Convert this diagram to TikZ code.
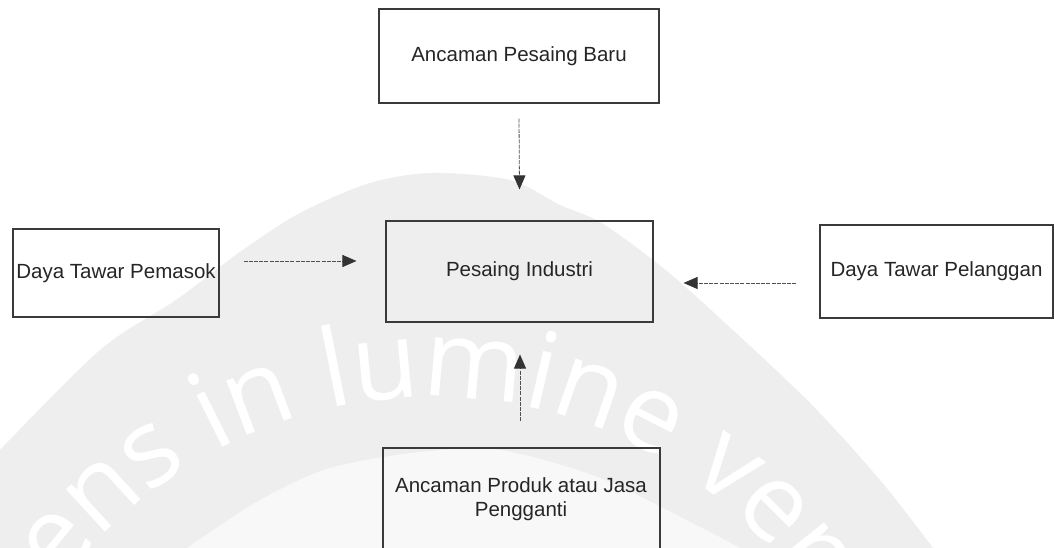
\documentclass[tikz,border=0pt]{standalone}
\usepackage{fontspec}
\setmainfont{Liberation Sans}
\newfontfamily\wmfont{Open Sans}
\usetikzlibrary{arrows.meta,calc,decorations.text}
\definecolor{boxline}{HTML}{3A3A3A}
\definecolor{txt}{HTML}{262626}
\definecolor{conn}{HTML}{505050}
\definecolor{tipcol}{HTML}{333333}
\definecolor{wmgray}{HTML}{EEEEEE}
\definecolor{wminner}{HTML}{F8F8F8}
\tikzset{
  box/.style={draw=boxline, line width=1.1pt, inner sep=0pt, text=txt,
    font=\fontsize{20.5}{24}\selectfont, align=center},
  lbl/.style={inner sep=0pt, text=txt, font=\fontsize{20.5}{24}\selectfont, align=center},
  link/.style={draw=conn, line width=0.8pt, dash pattern=on 4pt off 1.2pt,
    -{Triangle[length=14pt,width=12pt,fill=tipcol,color=tipcol]}}
}
\begin{document}
\begin{tikzpicture}[x=1pt,y=1pt]
\useasboundingbox (0,0) rectangle (1054,548);
\fill[white] (0,0) rectangle (1054,548);
% watermark
\fill[wmgray] (0,0) -- plot[smooth] coordinates {(0,98) (100,198) (176,248) (240,296) (300,335) (370,365) (433,375) (510,368) (560,343) (600,326) (653,288) (700,248) (807,148) (880,68) (933,0)} -- cycle;
\fill[wminner] (187,0) -- plot[smooth] coordinates {(187,0) (260,48) (330,80) (420,96) (500,98) (600,70) (700,21) (740,0)} -- cycle;
\path[decorate, decoration={text along path, text align=center, text color=white,
  text={|\wmfont\fontsize{108}{108}\selectfont|ens in lumine ver}}]
  (36.1,-77) arc[start angle=150, end angle=30, radius=456];
% boxes
\node[box, minimum width=280pt, minimum height=94pt] (baru) at (519,492) {Ancaman Pesaing Baru};
\node[box, minimum width=206pt, minimum height=88pt] (pemasok) at (116,275) {Daya Tawar Pemasok};
\node[box, minimum width=267pt, minimum height=101pt] (industri) at (519.5,276.5) {Pesaing Industri};
\node[box, minimum width=233pt, minimum height=93pt] (pelanggan) at (936.5,276.5) {Daya Tawar Pelanggan};
\node[box, minimum width=277pt, minimum height=112pt] (produk) at (521.5,44) {};
\node[lbl] (produklbl) at (521,49) {Ancaman Produk atau Jasa\\Pengganti};
% connectors
\draw[link] ($(baru.south)+(0,-15)$) -- ($(industri.north)+(0,31)$);
\draw[link] ($(pemasok.east)+(24,12)$) -- ($(industri.west)+(-29,10.5)$);
\draw[link] ($(pelanggan.west)+(-23,-11.5)$) -- ($(industri.east)+(30,-11.5)$);
\draw[link] ($(produk.north)+(-1.5,26)$) -- ($(industri.south)+(0.5,-32)$);
\end{tikzpicture}
\end{document}
